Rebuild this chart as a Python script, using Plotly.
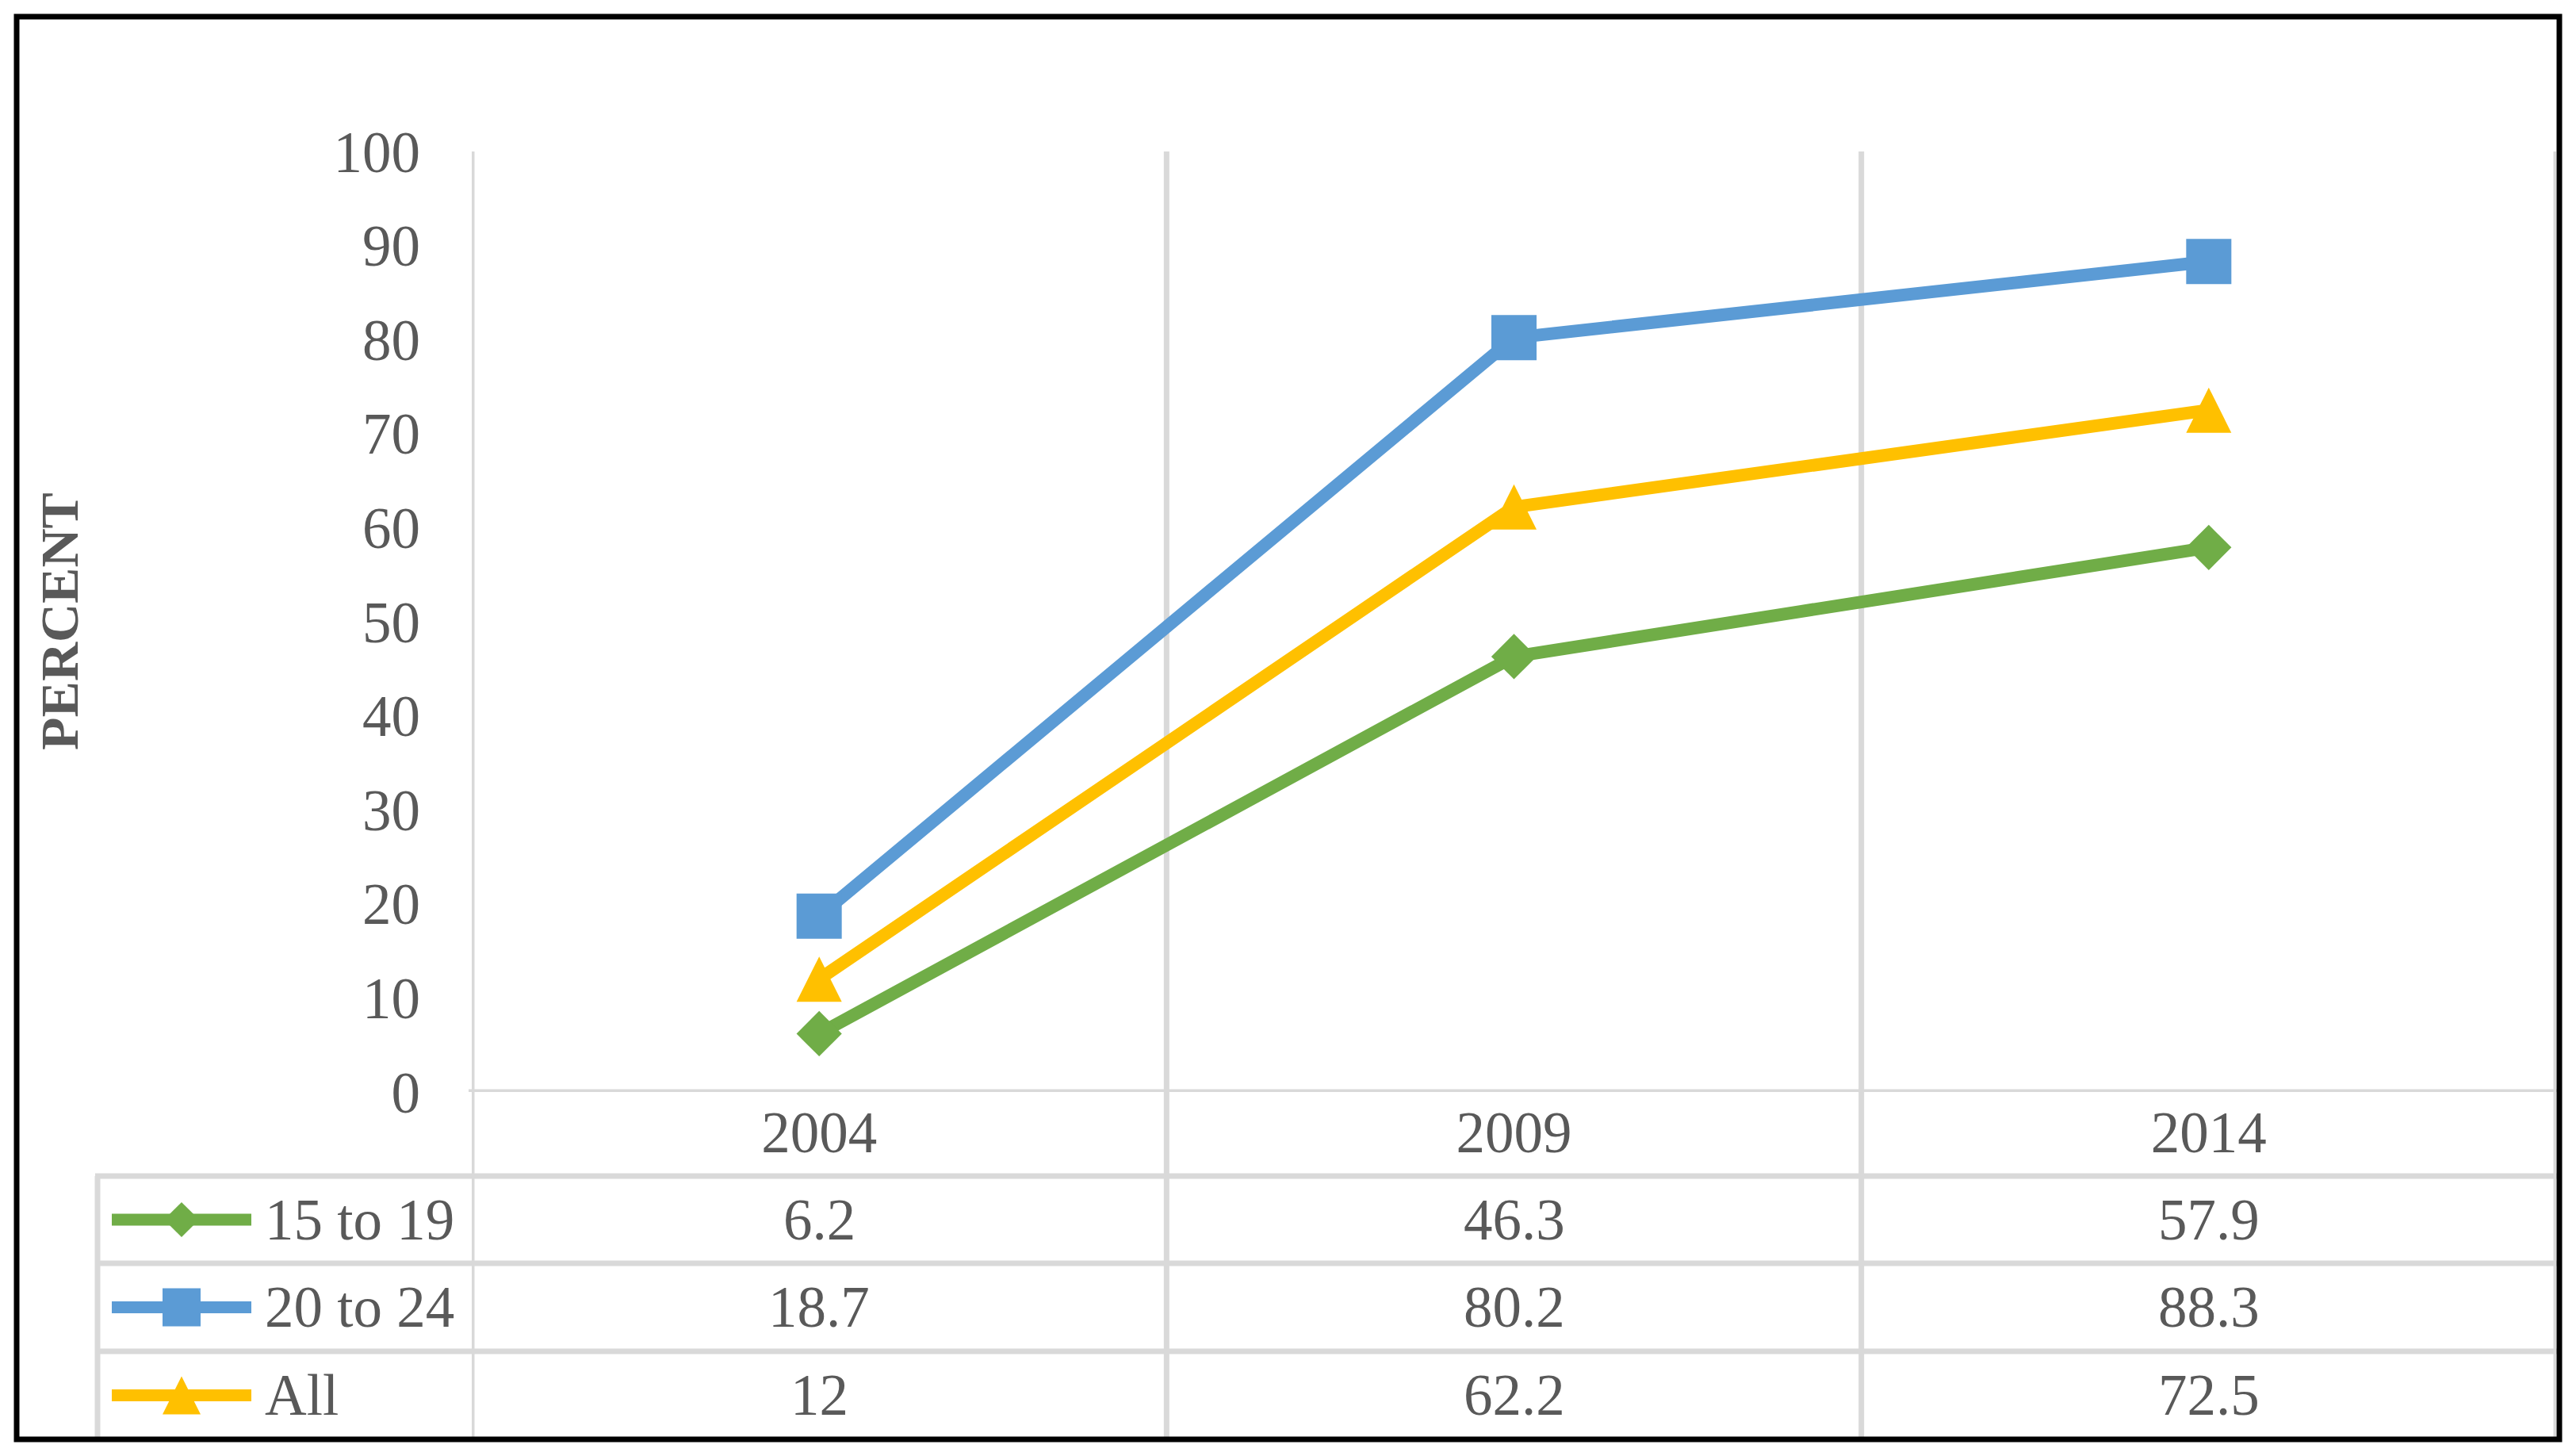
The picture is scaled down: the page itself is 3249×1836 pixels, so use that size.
import plotly.graph_objects as go

# ---------------- data ----------------
years = ["2004", "2009", "2014"]
series_names = ["15 to 19", "20 to 24", "All"]
vals_15_19 = [6.2, 46.3, 57.9]
vals_20_24 = [18.7, 80.2, 88.3]
vals_all = [12, 62.2, 72.5]
y_ticks = [0, 10, 20, 30, 40, 50, 60, 70, 80, 90, 100]
y_title = "PERCENT"

# ---------------- styles / layout constants (reference pixel coords) ----------------
W, H = 3249, 1836
OFF = 8  # page body margin offset
PLOT_L, PLOT_R, PLOT_T, PLOT_B = 595, 3224, 191, 1377
TABLE_L = 123
ROW_LINES = [1483, 1593, 1704, 1815]
BORDER = (21, 21, 3228, 1815)
GRID = "#d9d9d9"
GRID_W = 7
TXT = "#595959"
FONT = "Liberation Serif, Times New Roman, serif"
FS = 73
LINE_W = 16

styles = [
    dict(color="#70AD47", symbol="diamond", size=44, angle=0, standoff=0, lsize=34),
    dict(color="#5B9BD5", symbol="square", size=57, angle=0, standoff=0, lsize=48),
    dict(color="#FFC000", symbol="arrow-down", size=57, angle=180, standoff=28.5, lsize=48),
]
series_vals = [vals_15_19, vals_20_24, vals_all]


def px(x):
    return (x - OFF) / W


def py(y):
    return 1 - (y - OFF) / H


fig = go.Figure()

# main series
for name, vals, st in zip(series_names, series_vals, styles):
    fig.add_trace(go.Scatter(
        x=years, y=vals, name=name, mode="lines+markers",
        line=dict(color=st["color"], width=LINE_W),
        marker=dict(symbol=st["symbol"], size=st["size"], color=st["color"],
                    angle=st["angle"], standoff=st["standoff"], line=dict(width=0)),
        xaxis="x", yaxis="y", showlegend=False, cliponaxis=False,
    ))

# legend keys inside the data table (pixel overlay axes)
row_centers = [(ROW_LINES[i] + ROW_LINES[i + 1]) / 2 for i in range(3)]
for rc, st in zip(row_centers, styles):
    fig.add_trace(go.Scatter(
        x=[141 - OFF, 317 - OFF], y=[rc - OFF, rc - OFF], mode="lines",
        line=dict(color=st["color"], width=15),
        xaxis="x2", yaxis="y2", showlegend=False, hoverinfo="skip",
    ))
    fig.add_trace(go.Scatter(
        x=[229 - OFF], y=[rc - OFF], mode="markers",
        marker=dict(symbol=st["symbol"], size=st["lsize"], color=st["color"],
                    angle=st["angle"], standoff=st["lsize"] / 2 if st["standoff"] else 0,
                    line=dict(width=0)),
        xaxis="x2", yaxis="y2", showlegend=False, hoverinfo="skip",
    ))

shapes = []
# vertical grid lines (category boundaries) through plot and table
for i in range(len(years) + 1):
    shapes.append(dict(type="line", xref="x", yref="paper",
                       x0=i - 0.5, x1=i - 0.5, y0=py(PLOT_T), y1=py(BORDER[3]),
                       line=dict(color=GRID, width=GRID_W), layer="below"))
# zero line / x axis
shapes.append(dict(type="line", xref="paper", yref="y", x0=px(PLOT_L - 4), x1=px(PLOT_R + 4),
                   y0=0, y1=0, line=dict(color=GRID, width=GRID_W), layer="below"))
# table row lines
for yl in ROW_LINES[:-1]:
    shapes.append(dict(type="line", xref="paper", yref="paper", x0=px(TABLE_L - 3), x1=px(PLOT_R + 4),
                       y0=py(yl), y1=py(yl), line=dict(color=GRID, width=GRID_W), layer="below"))
# table left line
shapes.append(dict(type="line", xref="paper", yref="paper", x0=px(TABLE_L), x1=px(TABLE_L),
                   y0=py(ROW_LINES[0]), y1=py(BORDER[3]), line=dict(color=GRID, width=GRID_W), layer="below"))
# chart border
shapes.append(dict(type="rect", xref="paper", yref="paper",
                   x0=px(BORDER[0]), x1=px(BORDER[2]), y0=py(BORDER[3]), y1=py(BORDER[1]),
                   line=dict(color="black", width=7), fillcolor="rgba(0,0,0,0)", layer="above"))

annotations = []
# table values
for r, (name, vals) in enumerate(zip(series_names, series_vals)):
    annotations.append(dict(text=name, xref="paper", yref="paper", x=px(332), y=py(row_centers[r]),
                            xanchor="left", yanchor="middle", showarrow=False,
                            font=dict(family=FONT, size=FS, color=TXT)))
    for ci, v in enumerate(vals):
        annotations.append(dict(text=f"{v:g}", xref="x", yref="paper", x=ci, y=py(row_centers[r]),
                                xanchor="center", yanchor="middle", showarrow=False,
                                font=dict(family=FONT, size=FS, color=TXT)))
# y title
annotations.append(dict(text=f"<b>{y_title}</b>", xref="paper", yref="paper", x=px(75), y=py(784),
                        xanchor="center", yanchor="middle", textangle=-90, showarrow=False,
                        font=dict(family=FONT, size=68, color=TXT)))

fig.update_layout(
    width=W, height=H,
    margin=dict(l=0, r=0, t=0, b=0, autoexpand=False),
    paper_bgcolor="white", plot_bgcolor="rgba(0,0,0,0)",
    font=dict(family=FONT, size=FS, color=TXT),
    xaxis=dict(domain=[px(PLOT_L), px(PLOT_R)], type="category", range=[-0.5, 2.5],
               showgrid=False, zeroline=False, showline=False, ticks="",
               tickfont=dict(family=FONT, size=FS, color=TXT), ticklabelstandoff=2,
               anchor="y", automargin=False, fixedrange=True),
    yaxis=dict(domain=[py(PLOT_B), py(PLOT_T)], range=[0, 100], tickvals=y_ticks,
               showgrid=False, zeroline=False, showline=False, ticks="",
               tickfont=dict(family=FONT, size=FS, color=TXT), ticklabelstandoff=64,
               anchor="x", automargin=False, fixedrange=True),
    xaxis2=dict(domain=[0, 1], range=[0, W], visible=False, anchor="y2", fixedrange=True),
    yaxis2=dict(domain=[0, 1], range=[H, 0], visible=False, anchor="x2", fixedrange=True),
    shapes=shapes, annotations=annotations,
)

fig.write_html("out.html")
